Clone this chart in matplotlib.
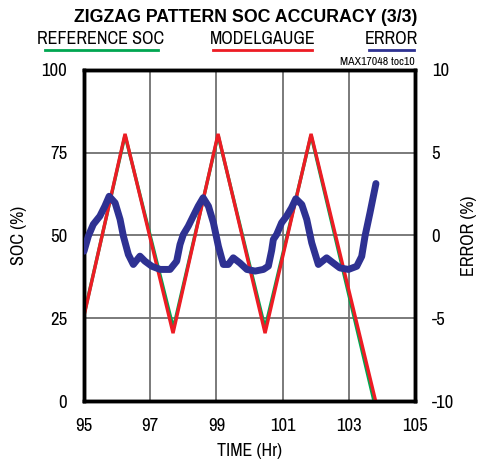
import matplotlib
matplotlib.use("Agg")
import matplotlib.pyplot as plt
from matplotlib.lines import Line2D
from matplotlib import font_manager

names = {f.name for f in font_manager.fontManager.ttflist}
NARROW = None
for cand in ['Liberation Sans Narrow', 'Arial Narrow', 'Archivo Narrow',
             'PT Sans Narrow', 'Roboto Condensed', 'Pragati Narrow']:
    if cand in names:
        NARROW = cand
        break
if NARROW is None:
    NARROW = 'Liberation Sans'
    SC = 0.86
else:
    SC = 1.0
plt.rcParams['font.family'] = [NARROW, 'DejaVu Sans']
plt.rcParams['axes.unicode_minus'] = False

# Reference SOC (%) vertices
ref_t = [95.0, 96.24, 97.70, 99.05, 100.47, 101.86, 103.76]
ref_soc = [26.0, 80.3, 22.0, 80.3, 22.0, 80.3, 0.0]

# ModelGauge SOC (%) vertices
mg_t = [95.0, 96.24, 97.69, 99.05, 100.47, 101.86, 103.81]
mg_soc = [25.7, 80.7, 20.5, 80.7, 20.5, 80.7, 0.0]

# Error (%)
err_t = [95.0, 95.13, 95.28, 95.48, 95.63, 95.76, 95.94, 96.09, 96.19, 96.34,
         96.49, 96.69, 96.84, 97.05, 97.30, 97.60, 97.80, 97.90, 98.0, 98.15,
         98.30, 98.45, 98.60, 98.76, 98.91, 99.06, 99.21, 99.36, 99.51, 99.71,
         99.92, 100.17, 100.42, 100.57, 100.67, 100.72, 100.82, 100.97, 101.12,
         101.27, 101.40, 101.58, 101.73, 101.88, 102.08, 102.33, 102.53, 102.73,
         102.99, 103.24, 103.39, 103.49, 103.64, 103.82]
err_v = [-0.95, -0.04, 0.67, 1.17, 1.77, 2.37, 1.97, 0.97, -0.04, -1.15,
         -1.75, -1.25, -1.55, -1.86, -2.05, -2.05, -1.55, -0.55, 0.06, 0.56,
         1.17, 1.77, 2.28, 1.77, 0.77, -0.65, -1.75, -1.75, -1.35, -1.66,
         -2.05, -2.15, -2.05, -1.85, -0.9, -0.24, 0.06, 0.77, 1.17,
         1.67, 2.22, 1.87, 0.97, -0.44, -1.75, -1.35, -1.66, -1.96,
         -2.05, -1.86, -1.26, -0.04, 1.37, 3.14]

x_ticks = [95, 97, 99, 101, 103, 105]
soc_ticks = [0, 25, 50, 75, 100]
err_ticks = [-10, -5, 0, 5, 10]

GREEN = '#00a651'
RED = '#ed1c24'
BLUE = '#2e3192'

FS = 13.5 * SC
LFS = 13 * SC

fig = plt.figure(figsize=(4.79, 4.61), dpi=100)
ax = fig.add_axes([84/479, 60/461, 331/479, 331/461])
ax.set_xlim(95, 105)
ax.set_ylim(0, 100)
ax.set_xticks(x_ticks)
ax.set_yticks(soc_ticks)
ax.grid(True, color='#707070', linewidth=1.3)
ax.set_axisbelow(True)
ax.tick_params(axis='x', length=0, labelsize=FS, pad=12)
ax.tick_params(axis='y', length=0, labelsize=FS, pad=12)
for s in ax.spines.values():
    s.set_linewidth(2.5)
    s.set_color('black')

ax.plot(ref_t, ref_soc, color=GREEN, lw=2.4, solid_joinstyle='miter', zorder=3)
ax.plot(mg_t, mg_soc, color=RED, lw=2.4, solid_joinstyle='miter', zorder=4)
ax.set_xlabel('TIME (Hr)', fontsize=LFS, labelpad=7)
ax.set_ylabel('SOC (%)', fontsize=LFS)
ax.yaxis.set_label_coords((27 - 84) / 331, 0.5)

ax2 = ax.twinx()
ax2.set_ylim(-10, 10)
ax2.set_yticks(err_ticks)
ax2.tick_params(length=0, labelsize=FS, pad=12)
for s in ax2.spines.values():
    s.set_linewidth(2.5)
ax2.plot(err_t, err_v, color=BLUE, lw=5, solid_capstyle='round', zorder=5)
ax2.set_ylabel('ERROR (%)', fontsize=LFS)
ax2.yaxis.set_label_coords((461 - 84) / 331, 0.5)

fig.text(417/479, 1 - 18/461, 'ZIGZAG PATTERN SOC ACCURACY (3/3)', fontsize=12.8,
         fontweight='bold', ha='right', va='center',
         family=['Liberation Sans', 'DejaVu Sans'])

labels = [('REFERENCE SOC', 37, 45, 158, GREEN),
          ('MODELGAUGE', 210, 213, 312, RED),
          ('ERROR', 365, 369, 414, BLUE)]
for txt, x0, u0, u1, c in labels:
    fig.text(x0/479, 1 - 39/461, txt, fontsize=LFS, ha='left', va='center')
    fig.add_artist(Line2D([u0/479, u1/479], [1 - 50/461, 1 - 50/461],
                          color=c, lw=2, transform=fig.transFigure))

fig.text(415/479, 1 - 62/461, 'MAX17048 toc10', fontsize=8.5, ha='right', va='center')

fig.savefig('out.png', dpi=100)
